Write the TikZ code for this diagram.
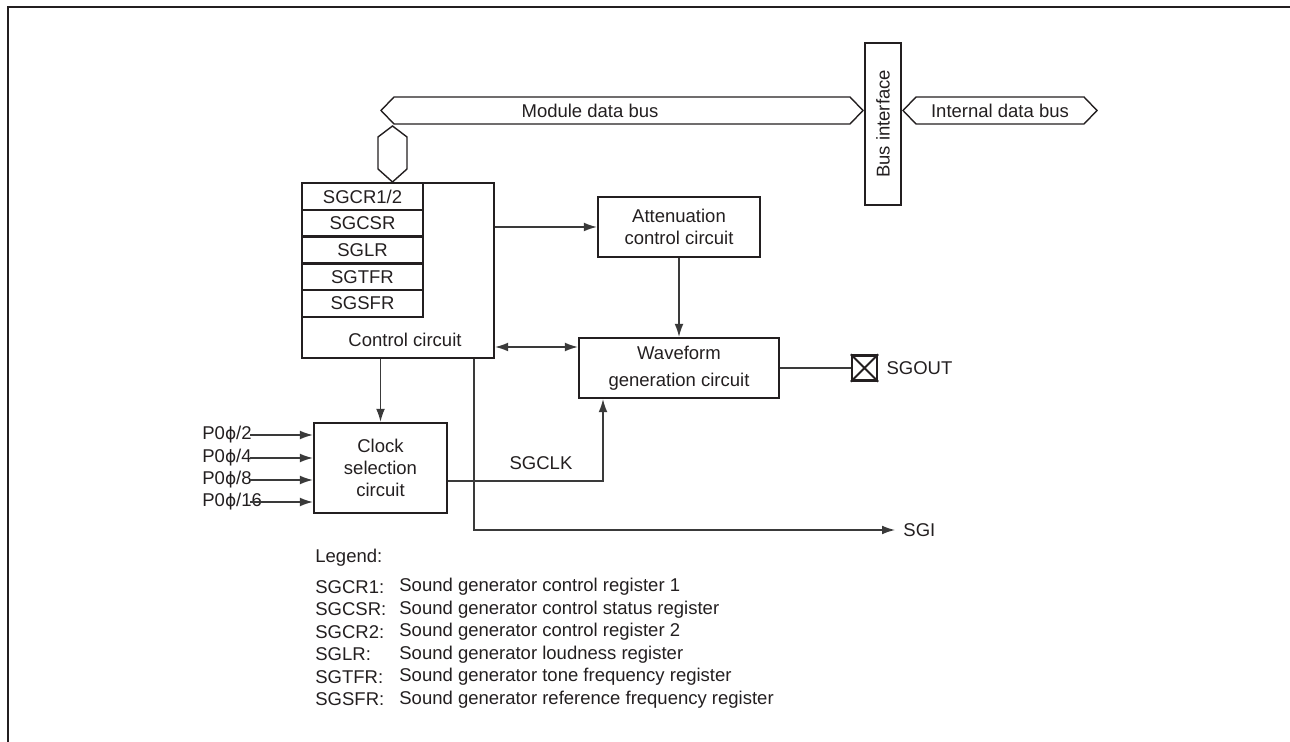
\documentclass[tikz,border=0pt]{standalone}
\usepackage{fontspec}
\setmainfont{Liberation Sans}
\newfontfamily\grk{DejaVu Sans}
\usepackage{tikz}
\usetikzlibrary{arrows.meta,positioning,calc}
\definecolor{ink}{HTML}{231F20}
\definecolor{wire}{HTML}{3A3A3A}
\newcommand{\lbl}{\fontsize{9.25}{11}\selectfont}
\newcommand{\ph}{{\grk\fontsize{8.5}{11}\selectfont ϕ}}

\begin{document}
\begin{tikzpicture}[x=0.5pt,y=-0.5pt,
  box/.style={draw=ink,line width=1.15pt,font=\lbl,text=ink,align=center,inner sep=0pt},
  reg/.style={box,minimum width=60.5pt,minimum height=13.4pt},
  bus/.style={draw=ink,line width=0.7pt},
  lab/.style={font=\lbl,text=ink,inner sep=0pt},
  ln/.style={draw=wire,line width=0.65pt},
  ar/.style={ln,-{Latex[length=6.5pt,width=4.4pt]}},
  biar/.style={ln,{Latex[length=6.5pt,width=4.4pt]}-{Latex[length=6.5pt,width=4.4pt]}},
]
\useasboundingbox (0,0) rectangle (1290,742);
% frame
\draw[ink,line width=1.25pt] (8,742) -- (8,7) -- (1290,7);

% buses
\draw[bus] (381,110.5) -- (394,97) -- (850,97) -- (863,110.5) -- (850,124) -- (394,124) -- cycle;
\node[lab] (mbus) at (590,110.5) {Module data bus};
\node[box,rotate=90,minimum width=81pt,minimum height=18pt,line width=1pt] (bif) at (883,124) {Bus interface};
\draw[bus] (903,110.5) -- (916,97) -- (1084,97) -- (1097,110.5) -- (1084,124) -- (916,124) -- cycle;
\node[lab] (ibus) at (1000,110.5) {Internal data bus};
\draw[bus] (392.5,126) -- (407,137) -- (407,169) -- (392.5,182) -- (378,169) -- (378,137) -- cycle;

% control circuit with registers
\node[box,minimum width=96pt,minimum height=87.5pt] (ctrl) at (398,270.5) {};
\node[reg] (r1) at (362.5,196.4) {SGCR1/2};
\node[reg] (r2) at (362.5,223.2) {SGCSR};
\node[reg] (r3) at (362.5,250) {SGLR};
\node[reg] (r4) at (362.5,276.8) {SGTFR};
\node[reg] (r5) at (362.5,303.6) {SGSFR};
\node[lab] (ctxt) at (405,340) {Control circuit};

% attenuation + waveform
\node[box,minimum width=81pt,minimum height=30pt] (att) at (679,227) {Attenuation\\control circuit};
\node[box,minimum width=100pt,minimum height=30pt,font={\fontsize{9.25}{13.5}\selectfont}] (wave) at (679,368) {Waveform\\generation circuit};
\draw[ar] (ctrl.east |- att.west) -- (att.west);
\draw[ar] (att.south) -- (wave.north);
\coordinate (bi) at (0,347);
\draw[biar] (ctrl.east |- bi) -- (wave.west |- bi);

% output pin
\node[box,minimum width=12.5pt,minimum height=12.5pt] (pin) at (864.5,368) {};
\draw[ink,line width=0.9pt] (pin.north west) -- (pin.south east) (pin.north east) -- (pin.south west);
\node[lab,anchor=west] (sgout) at ([xshift=4pt]pin.east) {SGOUT};
\draw[ln] (wave.east) -- (pin.west);

% clock selection
\node[box,minimum width=66.5pt,minimum height=45pt] (clk) at (380.5,468) {Clock\\selection\\circuit};
\draw[ar] (ctrl.south -| clk.north) -- (clk.north);
\coordinate (in) at (250,0);
\node[lab,anchor=west] (p2) at (202,435) {P0\ph/2};
\node[lab,anchor=west] (p4) at (202,458) {P0\ph/4};
\node[lab,anchor=west] (p8) at (202,480) {P0\ph/8};
\node[lab,anchor=west] (p16) at (202,502) {P0\ph/16};
\draw[ar] (p2 -| in) -- (p2 -| clk.west);
\draw[ar] (p4 -| in) -- (p4 -| clk.west);
\draw[ar] (p8 -| in) -- (p8 -| clk.west);
\draw[ar] (p16 -| in) -- (p16 -| clk.west);
\coordinate (ck) at (603,481);
\draw[ar] (clk.east |- ck) -- (ck) -- (ck |- wave.south);
\node[lab] (sgclk) at (541,463) {SGCLK};

% interrupt out
\coordinate (sg) at (474,530);
\node[lab,anchor=west] (sgi) at (903,530) {SGI};
\draw[ar] (ctrl.south -| sg) -- (sg) -- ([xshift=-4pt]sgi.west);

% legend
\node[lab,anchor=west] (leg) at (315,558) {Legend:};
\node[lab,anchor=west] (k1) at (315,587) {SGCR1:};
\node[lab,anchor=west] (k2) at (315,609.5) {SGCSR:};
\node[lab,anchor=west] (k3) at (315,632) {SGCR2:};
\node[lab,anchor=west] (k4) at (315,654.5) {SGLR:};
\node[lab,anchor=west] (k5) at (315,677) {SGTFR:};
\node[lab,anchor=west] (k6) at (315,699.5) {SGSFR:};
\node[lab,anchor=west] (d1) at (399,587) {Sound generator control register 1};
\node[lab,anchor=west] (d2) at (399,609.5) {Sound generator control status register};
\node[lab,anchor=west] (d3) at (399,632) {Sound generator control register 2};
\node[lab,anchor=west] (d4) at (399,654.5) {Sound generator loudness register};
\node[lab,anchor=west] (d5) at (399,677) {Sound generator tone frequency register};
\node[lab,anchor=west] (d6) at (399,699.5) {Sound generator reference frequency register};
\end{tikzpicture}
\end{document}
